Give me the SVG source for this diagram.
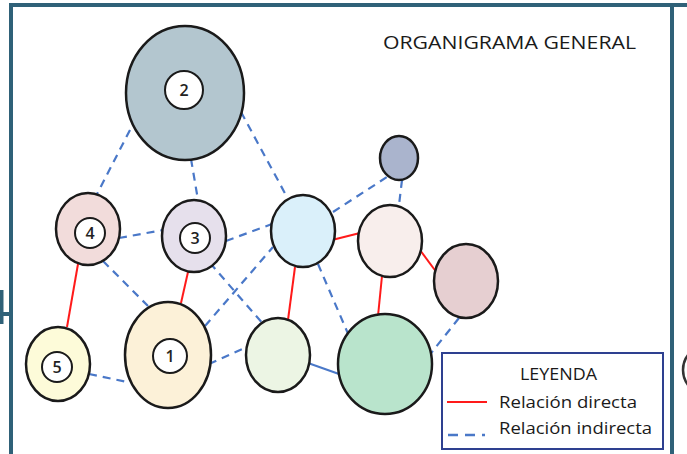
<svg xmlns="http://www.w3.org/2000/svg" width="687" height="454" viewBox="0 0 687 454">
<style>
.frame{stroke:#2f6178;stroke-width:4;fill:none}
.node{stroke:#1a1a1a;stroke-width:2.5}
.inner{fill:#ffffff;stroke:#1a1a1a;stroke-width:2}
.num{font-family:"Open Sans","Liberation Sans",sans-serif;font-size:16px;font-weight:600;fill:#222;text-anchor:middle}
.direct{stroke:#ff1a1a;stroke-width:2;fill:none}
.indirect{stroke:#4a78c8;stroke-width:2.2;fill:none;stroke-dasharray:8 6}
.solidblue{stroke:#4a78c8;stroke-width:2;fill:none}
.lbl{font-family:"Open Sans","Liberation Sans",sans-serif;font-size:16px;fill:#1a1a1a}
</style>
<rect width="687" height="454" fill="#ffffff"/>
<g id="frame">
<line class="frame" x1="10" y1="5" x2="687" y2="5"/>
<line class="frame" x1="11" y1="3" x2="11" y2="454"/>
<line class="frame" x1="672" y1="5" x2="672" y2="454"/>
<line class="frame" x1="0" y1="314" x2="11" y2="314"/>
<line class="frame" x1="1.5" y1="290" x2="1.5" y2="324"/>
<ellipse cx="702" cy="370" rx="19" ry="22" fill="#ffffff" stroke="#333" stroke-width="2.5"/>
</g>
<text x="383" y="49" font-family="'Open Sans','Liberation Sans',sans-serif" font-size="17.5" fill="#1a1a1a" textLength="253" lengthAdjust="spacingAndGlyphs">ORGANIGRAMA GENERAL</text>
<g id="connectors">
<line class="indirect" x1="130" y1="130" x2="97" y2="194"/>
<line class="indirect" x1="191" y1="159" x2="198" y2="200"/>
<line class="indirect" x1="241" y1="112" x2="287" y2="197"/>
<line class="indirect" x1="119" y1="238" x2="163" y2="230"/>
<line class="indirect" x1="103" y1="261" x2="148" y2="306"/>
<line class="indirect" x1="226" y1="241" x2="272" y2="224"/>
<line class="indirect" x1="210" y1="263" x2="264" y2="325"/>
<line class="indirect" x1="205" y1="326" x2="273" y2="247"/>
<line class="indirect" x1="209" y1="364" x2="249" y2="346"/>
<line class="indirect" x1="89" y1="374" x2="127" y2="382"/>
<line class="solidblue" x1="308" y1="363" x2="339" y2="374"/>
<line class="indirect" x1="318" y1="264" x2="349" y2="336"/>
<line class="indirect" x1="333" y1="212" x2="387" y2="177"/>
<line class="indirect" x1="402" y1="180" x2="399" y2="205"/>
<line class="indirect" x1="459" y1="318" x2="428" y2="357"/>
<line class="direct" x1="78" y1="264" x2="67" y2="327"/>
<line class="direct" x1="188" y1="272" x2="181" y2="303"/>
<line class="direct" x1="295" y1="267" x2="288" y2="320"/>
<line class="direct" x1="332" y1="240" x2="360" y2="233"/>
<line class="direct" x1="382" y1="276" x2="378" y2="316"/>
<line class="direct" x1="420" y1="250" x2="437" y2="273"/>
</g>
<g id="node2"><ellipse class="node" cx="185" cy="93" rx="59" ry="67" fill="#b3c6cf"/><circle class="inner" cx="184" cy="90" r="19"/><text class="num" x="184" y="96">2</text></g>
<g id="node4"><ellipse class="node" cx="88" cy="229" rx="32" ry="36" fill="#f2dcdb"/><circle class="inner" cx="90" cy="233" r="15"/><text class="num" x="90" y="239">4</text></g>
<g id="node3"><ellipse class="node" cx="194" cy="236" rx="32" ry="36" fill="#e6e0ec"/><circle class="inner" cx="195" cy="238" r="15"/><text class="num" x="195" y="244">3</text></g>
<g id="node5"><ellipse class="node" cx="58" cy="364" rx="32" ry="37" fill="#fdfbd9"/><circle class="inner" cx="57" cy="367" r="15"/><text class="num" x="57" y="373">5</text></g>
<g id="node1"><ellipse class="node" cx="168" cy="355" rx="43" ry="53" fill="#fcf1d8"/><circle class="inner" cx="170" cy="356" r="17"/><text class="num" x="170" y="362">1</text></g>
<g id="nodeLightGreen"><ellipse class="node" cx="278" cy="355" rx="32" ry="37" fill="#ecf5e4"/></g>
<g id="nodeGreen"><ellipse class="node" cx="385" cy="364" rx="47" ry="50" fill="#b9e4cc"/></g>
<g id="nodeLightBlue"><ellipse class="node" cx="303" cy="231" rx="32" ry="36" fill="#daf0fa"/></g>
<g id="nodeBlush"><ellipse class="node" cx="390" cy="241" rx="32" ry="36" fill="#f8eeec"/></g>
<g id="nodeMauve"><ellipse class="node" cx="466" cy="281" rx="32" ry="37" fill="#e6cfd1"/></g>
<g id="nodeSlate"><ellipse class="node" cx="399" cy="158" rx="19" ry="22" fill="#aab4cd"/></g>
<g id="legend">
<rect x="442" y="353" width="221" height="96" fill="#ffffff" stroke="#2e4090" stroke-width="2"/>
<text class="lbl" x="520" y="380" textLength="77" lengthAdjust="spacingAndGlyphs">LEYENDA</text>
<line class="direct" x1="447" y1="402" x2="487" y2="402" stroke-width="2.5"/>
<text class="lbl" x="499" y="408" textLength="138" lengthAdjust="spacingAndGlyphs">Relación directa</text>
<line x1="448" y1="435" x2="489" y2="435" stroke="#4a78c8" stroke-width="2.5" stroke-dasharray="10 7 10 7 3"/>
<text class="lbl" x="499" y="434" textLength="153" lengthAdjust="spacingAndGlyphs">Relación indirecta</text>
</g>
</svg>
